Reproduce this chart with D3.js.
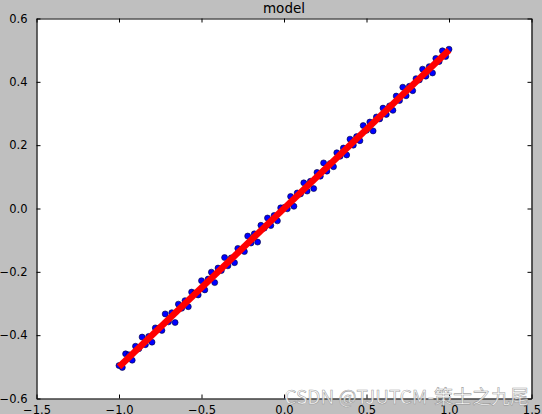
<!DOCTYPE html>
<html>
<head>
<meta charset="utf-8">
<script src="https://cdn.jsdelivr.net/npm/d3@7"></script>
<style>
  body { margin: 0; background: #bfbfbf; }
  svg { display: block; }
  text { font-family: "DejaVu Sans", sans-serif; }
</style>
</head>
<body>
<div id="chart"></div>
<script>
// scatter data
var xs = [-1.00,-0.98,-0.96,-0.94,-0.92,-0.90,-0.88,-0.86,-0.84,-0.82,-0.80,-0.78,-0.76,-0.74,-0.72,-0.70,-0.68,-0.66,-0.64,-0.62,
  -0.60,-0.58,-0.56,-0.54,-0.52,-0.50,-0.48,-0.46,-0.44,-0.42,-0.40,-0.38,-0.36,-0.34,-0.32,-0.30,-0.28,-0.26,-0.24,-0.22,
  -0.20,-0.18,-0.16,-0.14,-0.12,-0.10,-0.08,-0.06,-0.04,-0.02,0.00,0.02,0.04,0.06,0.08,0.10,0.12,0.14,0.16,0.18,
  0.20,0.22,0.24,0.26,0.28,0.30,0.32,0.34,0.36,0.38,0.40,0.42,0.44,0.46,0.48,0.50,0.52,0.54,0.56,0.58,
  0.60,0.62,0.64,0.66,0.68,0.70,0.72,0.74,0.76,0.78,0.80,0.82,0.84,0.86,0.88,0.90,0.92,0.94,0.96,0.98,1.00];
var ys = [-0.496,-0.502,-0.459,-0.462,-0.479,-0.435,-0.443,-0.406,-0.430,-0.404,-0.422,-0.377,-0.378,-0.385,-0.333,-0.358,-0.329,-0.360,-0.302,-0.315,
  -0.291,-0.310,-0.264,-0.267,-0.273,-0.228,-0.257,-0.223,-0.201,-0.234,-0.188,-0.196,-0.155,-0.181,-0.156,-0.171,-0.126,-0.129,-0.136,-0.087,
  -0.109,-0.080,-0.106,-0.053,-0.062,-0.030,-0.054,-0.022,-0.039,0.002,0.003,-0.001,0.038,0.007,0.049,0.046,0.081,0.055,0.086,0.063,
  0.114,0.102,0.144,0.118,0.142,0.132,0.176,0.165,0.191,0.169,0.219,0.200,0.227,0.214,0.262,0.247,0.273,0.245,0.289,0.283,
  0.317,0.297,0.324,0.310,0.355,0.341,0.383,0.356,0.386,0.372,0.410,0.406,0.440,0.418,0.448,0.428,0.474,0.464,0.498,0.480,0.503];
// fitted model line
var lineX = [-1.0, 1.0];
var lineY = [-0.5, 0.5];
var xTicks = [-1.5, -1.0, -0.5, 0.0, 0.5, 1.0, 1.5];
var yTicks = [-0.6, -0.4, -0.2, 0.0, 0.2, 0.4, 0.6];

var width = 542, height = 414;
var margin = {left: 36.5, top: 18.5, right: 10.5, bottom: 15.5};
var svg = d3.select("#chart").append("svg").attr("width", width).attr("height", height);

var x = d3.scaleLinear().domain([-1.5, 1.5]).range([margin.left, width - margin.right]);
var y = d3.scaleLinear().domain([-0.6, 0.6]).range([height - margin.bottom, margin.top]);

svg.append("rect")
    .attr("x", x(-1.5)).attr("y", y(0.6))
    .attr("width", x(1.5) - x(-1.5)).attr("height", y(-0.6) - y(0.6))
    .attr("fill", "#fff");

var fmt = function (d) { return d3.format(".1f")(d).replace("-", "\u2212"); };

var plot = svg.append("g");
plot.selectAll("circle")
    .data(xs.map(function (d, i) { return {x: d, y: ys[i]}; }))
    .enter().append("circle")
    .attr("cx", function (d) { return x(d.x); })
    .attr("cy", function (d) { return y(d.y); })
    .attr("r", 3)
    .attr("fill", "#0000ff")
    .attr("stroke", "#000033")
    .attr("stroke-width", 0.6);

plot.append("path")
    .datum(lineX.map(function (d, i) { return [d, lineY[i]]; }))
    .attr("d", d3.line().x(function (d) { return x(d[0]); }).y(function (d) { return y(d[1]); }))
    .attr("stroke", "#ff0000")
    .attr("stroke-width", 6.5)
    .attr("fill", "none");

// axes, ticks inside on all four sides
var tickLen = 4;
var axBottom = svg.append("g").attr("transform", "translate(0," + y(-0.6) + ")")
    .call(d3.axisBottom(x).tickValues(xTicks).tickSizeInner(-tickLen).tickSizeOuter(0).tickPadding(5 + tickLen).tickFormat(fmt));
var axTop = svg.append("g").attr("transform", "translate(0," + y(0.6) + ")")
    .call(d3.axisTop(x).tickValues(xTicks).tickSizeInner(-tickLen).tickSizeOuter(0).tickFormat(""));
var axLeft = svg.append("g").attr("transform", "translate(" + x(-1.5) + ",0)")
    .call(d3.axisLeft(y).tickValues(yTicks).tickSizeInner(-tickLen).tickSizeOuter(0).tickPadding(5 + tickLen).tickFormat(fmt));
var axRight = svg.append("g").attr("transform", "translate(" + x(1.5) + ",0)")
    .call(d3.axisRight(y).tickValues(yTicks).tickSizeInner(-tickLen).tickSizeOuter(0).tickFormat(""));

[axBottom, axTop, axLeft, axRight].forEach(function (a) {
    a.select(".domain").attr("stroke", "#000").attr("stroke-width", 1.2);
    a.selectAll(".tick line").attr("stroke", "#000");
    a.selectAll(".tick text").attr("fill", "#000").style("font-size", "11.5px").style("font-family", "DejaVu Sans");
});
axBottom.selectAll(".tick text").attr("dy", "0.6em");

svg.append("text")
    .attr("x", (x(-1.5) + x(1.5)) / 2).attr("y", 13)
    .attr("text-anchor", "middle")
    .style("font-size", "13.5px")
    .text("model");

// watermark
svg.append("text")
    .attr("x", 529).attr("y", 404)
    .attr("text-anchor", "end")
    .attr("fill", "#ffffff").attr("fill-opacity", 0.9)
    .attr("stroke", "#8a8a8a").attr("stroke-width", 0.6).attr("stroke-opacity", 0.8)
    .style("font-size", "19px")
    .style("font-family", "'Noto Sans CJK SC', 'DejaVu Sans', sans-serif")
    .text("CSDN @TJUTCM-策士之九尾");
</script>
</body>
</html>
